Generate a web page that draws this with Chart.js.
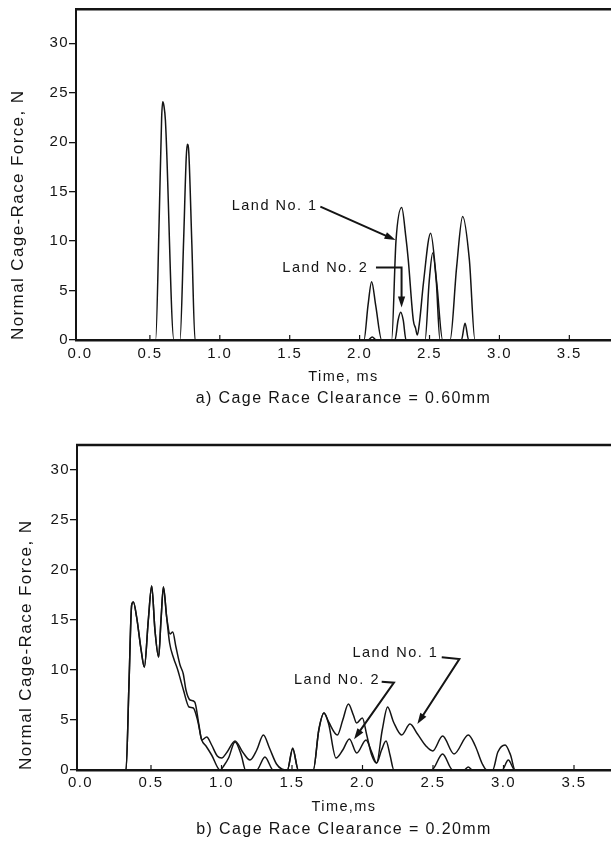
<!DOCTYPE html>
<html><head><meta charset="utf-8">
<script src="https://cdn.jsdelivr.net/npm/chart.js@4.4.1/dist/chart.umd.min.js"></script>
<style>
html,body{margin:0;padding:0;background:#fff;width:611px;height:842px;overflow:hidden}
#c1{position:absolute;left:0;top:0}
#c2{position:absolute;left:0;top:415px}
</style></head><body>
<canvas id="c1" width="611" height="415"></canvas>
<canvas id="c2" width="611" height="427"></canvas>
<script>
// ---- tick labels ----
const xTickValues = [0, 0.5, 1, 1.5, 2, 2.5, 3, 3.5];
const yTickValues = [0, 5, 10, 15, 20, 25, 30];

// ---- a) clearance 0.60 mm ----
const topLand1Time  = [0, 0.541, 0.566, 0.584, 0.592, 0.600, 0.611, 0.672, 0.715, 0.741, 0.760, 0.768, 0.778, 0.800, 0.823, 2.031, 2.060, 2.086, 2.115, 2.158, 2.229, 2.260, 2.301, 2.330, 2.348, 2.384, 2.400, 2.413, 2.430, 2.456, 2.508, 2.552, 2.594, 2.647, 2.694, 2.737, 2.785, 2.825, 3.8];
const topLand1Force = [0, 0, 12.0, 22.5, 24.1, 23.7, 22.2, 0, 0, 10.0, 18.5, 19.8, 19.0, 9.7, 0, 0, 3.5, 5.9, 3.5, 0, 0, 10.0, 13.4, 10.5, 8.1, 2.0, 1.2, 0.5, 2.0, 5.7, 10.8, 5.7, 0, 0, 7.4, 12.5, 8.1, 0, 0];
const topLand2Time  = [0, 2.060, 2.090, 2.120, 2.253, 2.275, 2.294, 2.312, 2.332, 2.468, 2.498, 2.523, 2.548, 2.575, 2.728, 2.754, 2.780, 3.8];
const topLand2Force = [0, 0, 0.3, 0, 0, 2.0, 2.8, 2.0, 0, 0, 6.0, 8.8, 6.0, 0, 0, 1.7, 0, 0];

// ---- b) clearance 0.20 mm ----
const botLand1Time  = [0, 0.323, 0.343, 0.363, 0.375, 0.398, 0.430, 0.453, 0.481, 0.505, 0.528, 0.554, 0.571, 0.588, 0.611, 0.635, 0.654, 0.677, 0.706, 0.729, 0.748, 0.777, 0.810, 0.840, 0.860, 0.895, 0.930, 0.970, 1.001, 1.040, 1.096, 1.150, 1.202, 1.250, 1.297, 1.340, 1.390, 1.427, 1.467, 1.505, 1.545, 1.651, 1.690, 1.727, 1.760, 1.822, 1.860, 1.900, 1.935, 1.958, 1.999, 2.030, 2.065, 2.100, 2.140, 2.178, 2.220, 2.278, 2.337, 2.390, 2.450, 2.498, 2.568, 2.649, 2.751, 2.800, 2.850, 2.881, 2.923, 2.960, 3.011, 3.050, 3.082, 3.8];
const botLand1Force = [0, 0, 8.2, 16.5, 16.8, 15.3, 12.0, 10.3, 15.0, 18.4, 14.0, 11.3, 15.0, 18.3, 15.3, 13.6, 13.8, 12.3, 10.5, 9.6, 8.0, 7.0, 6.8, 4.5, 3.0, 3.3, 2.5, 1.4, 1.2, 1.8, 2.9, 1.8, 1.0, 2.0, 3.5, 2.2, 0.6, 0.1, 0, 2.2, 0, 0, 4.0, 5.7, 4.8, 3.5, 5.0, 6.6, 5.5, 4.7, 5.2, 3.5, 1.5, 0.7, 4.0, 6.3, 4.8, 3.5, 4.6, 3.6, 2.4, 1.9, 3.4, 1.6, 3.5, 2.4, 0.6, 0, 0, 1.8, 2.5, 1.5, 0, 0];
const botLand2Time  = [0, 0.323, 0.343, 0.363, 0.375, 0.398, 0.430, 0.453, 0.481, 0.505, 0.528, 0.554, 0.571, 0.588, 0.611, 0.632, 0.660, 0.690, 0.710, 0.730, 0.770, 0.800, 0.830, 0.860, 0.890, 0.930, 0.990, 1.020, 1.050, 1.096, 1.140, 1.171, 1.249, 1.308, 1.367, 1.467, 1.505, 1.545, 1.651, 1.690, 1.727, 1.760, 1.812, 1.860, 1.907, 1.959, 2.025, 2.065, 2.100, 2.135, 2.167, 2.195, 2.223, 2.490, 2.568, 2.640, 2.720, 2.750, 2.780, 2.990, 3.034, 3.080, 3.8];
const botLand2Force = [0, 0, 8.2, 16.5, 16.8, 15.3, 12.0, 10.3, 15.0, 18.4, 14.0, 11.3, 15.0, 18.3, 15.3, 12.7, 11.2, 10.0, 9.0, 8.0, 6.3, 6.2, 5.0, 3.0, 2.4, 1.5, 0, 0.5, 1.2, 2.8, 1.5, 0, 0, 1.3, 0, 0, 2.1, 0, 0, 4.0, 5.7, 4.6, 1.2, 2.0, 3.1, 1.7, 3.0, 1.8, 0.7, 2.0, 2.9, 1.5, 0, 0, 1.6, 0, 0, 0.3, 0, 0, 1.0, 0, 0];

// ---- annotation placement (data coordinates) ----
const topNotes = [
  {text: 'Land No. 1', x: 1.70, y: 13.6, path: [[1.719, 13.48], [2.257, 10.11]]},
  {text: 'Land No. 2', x: 2.062, y: 7.33, path: [[2.117, 7.33], [2.300, 7.33], [2.300, 3.29]]}
];
const botNotes = [
  {text: 'Land No. 1', x: 2.538, y: 11.7, path: [[2.562, 11.27], [2.687, 11.1], [2.389, 4.6]]},
  {text: 'Land No. 2', x: 2.124, y: 9.0, path: [[2.136, 8.83], [2.223, 8.73], [1.940, 3.07]]}
];

const INK = '#141414';
const FONT = '"Liberation Sans", Arial, Helvetica, sans-serif';
Chart.defaults.font.family = FONT;
Chart.defaults.color = INK;

const toXY = (t, f) => t.map((v, i) => ({x: v, y: f[i]}));

const spacingPlugin = {
  id: 'spacing',
  beforeUpdate(c) { c.ctx.letterSpacing = '1.4px'; },
  beforeLayout(c) { c.ctx.letterSpacing = '1.4px'; },
  beforeDraw(c) { c.ctx.letterSpacing = '1.4px'; }
};

const decoPlugin = {
  id: 'deco',
  afterDraw(chart, args, opts) {
    const {ctx, chartArea: a, scales: {x, y}} = chart;
    ctx.save();
    ctx.strokeStyle = INK; ctx.fillStyle = INK;
    ctx.lineWidth = 2.5;
    ctx.beginPath(); ctx.moveTo(a.left - 1, a.top); ctx.lineTo(a.right, a.top); ctx.stroke();
    ctx.lineWidth = 1.2;
    xTickValues.forEach(v => {
      if (v === 0) return;
      const px = x.getPixelForValue(v);
      ctx.beginPath(); ctx.moveTo(px, a.bottom); ctx.lineTo(px, a.bottom - 5); ctx.stroke();
    });
    ctx.font = '14.5px ' + FONT;
    ctx.letterSpacing = '1.5px';
    ctx.textAlign = 'right'; ctx.textBaseline = 'middle';
    (opts.notes || []).forEach(n => {
      ctx.fillText(n.text, x.getPixelForValue(n.x), y.getPixelForValue(n.y));
      const pts = n.path.map(p => [x.getPixelForValue(p[0]), y.getPixelForValue(p[1])]);
      const p1 = pts[pts.length - 2], p2 = pts[pts.length - 1];
      const ang = Math.atan2(p2[1] - p1[1], p2[0] - p1[0]);
      const L = 11, W = 3.6;
      ctx.lineWidth = 2;
      ctx.beginPath();
      pts.forEach((p, i) => {
        if (i === 0) ctx.moveTo(p[0], p[1]);
        else if (i === pts.length - 1) ctx.lineTo(p[0] - (L - 2) * Math.cos(ang), p[1] - (L - 2) * Math.sin(ang));
        else ctx.lineTo(p[0], p[1]);
      });
      ctx.stroke();
      ctx.beginPath(); ctx.moveTo(p2[0], p2[1]);
      ctx.lineTo(p2[0] - L * Math.cos(ang) + W * Math.sin(ang), p2[1] - L * Math.sin(ang) - W * Math.cos(ang));
      ctx.lineTo(p2[0] - L * Math.cos(ang) - W * Math.sin(ang), p2[1] - L * Math.sin(ang) + W * Math.cos(ang));
      ctx.closePath(); ctx.fill();
    });
    ctx.restore();
  }
};

function lineSet(label, t, f) {
  return {label, data: toXY(t, f), borderColor: INK, borderWidth: 1.5, pointRadius: 0,
          fill: false, cubicInterpolationMode: 'monotone'};
}

function makeChart(id, cfg) {
  return new Chart(document.getElementById(id), {
    type: 'line',
    data: {datasets: [lineSet('Land No. 1', cfg.t1, cfg.f1), lineSet('Land No. 2', cfg.t2, cfg.f2)]},
    plugins: [spacingPlugin, decoPlugin],
    options: {
      responsive: false, animation: false, devicePixelRatio: 1,
      layout: {padding: {top: cfg.padTop, right: 0, bottom: cfg.padBottom, left: 0}},
      plugins: {
        legend: {display: false}, tooltip: {enabled: false},
        title: {display: true, position: 'bottom', fullSize: false, text: cfg.caption, color: INK,
                font: {size: 16, weight: 'normal', lineHeight: 1.2}, padding: {top: 0, bottom: 0}},
        deco: {notes: cfg.notes}
      },
      scales: {
        x: {
          type: 'linear', min: cfg.xmin, max: cfg.xmax,
          afterBuildTicks: s => { s.ticks = xTickValues.map(v => ({value: v})); },
          afterFit: s => { s.height = cfg.xHeight; },
          grid: {display: false, drawTicks: false},
          border: {display: true, color: INK, width: 2.5},
          ticks: {color: INK, font: {size: 15}, padding: cfg.xTickPad, maxRotation: 0, autoSkip: false,
                  callback: v => Number(v).toFixed(1)},
          title: {display: true, text: cfg.xTitle, color: INK, font: {size: 14.5, lineHeight: 1.2},
                  padding: {top: 0, bottom: cfg.xTitlePad}}
        },
        y: {
          type: 'linear', min: 0, max: cfg.ymax,
          afterBuildTicks: s => { s.ticks = yTickValues.map(v => ({value: v})); },
          afterFit: s => { s.width = cfg.yWidth; },
          grid: {display: true, drawOnChartArea: false, drawTicks: true, tickLength: 7, color: INK, lineWidth: 1.3},
          border: {display: true, color: INK, width: 2},
          ticks: {color: INK, font: {size: 15}, padding: 0, autoSkip: false, callback: v => String(v)},
          title: {display: true, text: 'Normal Cage-Race Force, N', align: 'start', color: INK,
                  font: {size: 17, lineHeight: 1.2}, padding: {top: cfg.yTitlePad, bottom: 0}}
        }
      }
    }
  });
}

makeChart('c1', {
  t1: topLand1Time, f1: topLand1Force, t2: topLand2Time, f2: topLand2Force,
  notes: topNotes, caption: 'a) Cage Race Clearance = 0.60mm', xTitle: 'Time, ms',
  xmin: -0.0286, xmax: 3.798, ymax: 33.44,
  padTop: 9.3, padBottom: 6.4, xHeight: 49.4, xTickPad: 4.5, xTitlePad: 3.7, yWidth: 76, yTitlePad: 8.1
});
makeChart('c2', {
  t1: botLand1Time, f1: botLand1Force, t2: botLand2Time, f2: botLand2Force,
  notes: botNotes, caption: 'b) Cage Race Clearance = 0.20mm', xTitle: 'Time,ms',
  xmin: -0.0248, xmax: 3.7624, ymax: 32.5,
  padTop: 30, padBottom: 2.4, xHeight: 50.4, xTickPad: 3.8, xTitlePad: 5.0, yWidth: 77, yTitlePad: 16.5
});
</script>
</body></html>
